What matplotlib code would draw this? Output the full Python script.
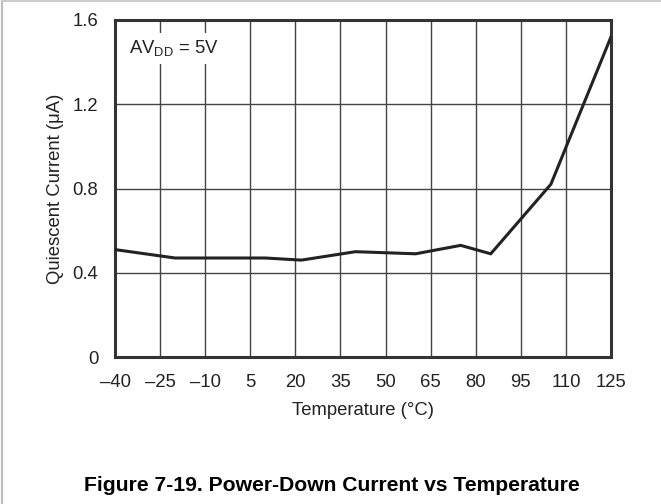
import matplotlib
matplotlib.use("Agg")
import matplotlib.pyplot as plt
from matplotlib.lines import Line2D

plt.rcParams["font.family"] = ["Liberation Sans", "DejaVu Sans"]
plt.rcParams["mathtext.fontset"] = "custom"
plt.rcParams["mathtext.rm"] = "Liberation Sans"
plt.rcParams["mathtext.it"] = "Liberation Sans:italic"
plt.rcParams["mathtext.bf"] = "Liberation Sans:bold"

# data
temps = [-40, -20, 10, 22, 40, 60, 75, 85, 105, 125]
current = [0.51, 0.47, 0.47, 0.46, 0.50, 0.49, 0.53, 0.49, 0.82, 1.52]

x_ticks = [-40, -25, -10, 5, 20, 35, 50, 65, 80, 95, 110, 125]
x_tick_labels = ["\u201340", "\u201325", "\u201310", "5", "20", "35", "50", "65",
                 "80", "95", "110", "125"]
y_ticks = [0, 0.4, 0.8, 1.2, 1.6]
y_tick_labels = ["0", "0.4", "0.8", "1.2", "1.6"]

FS = 13.3
W, H = 661, 504
fig = plt.figure(figsize=(W / 100, H / 100), dpi=100)
ax = fig.add_axes([115 / W, 1 - 357 / H, (611 - 115) / W, (357 - 20) / H])

# grid lines
for xv in x_ticks[1:-1]:
    ax.axvline(xv, color="#444444", lw=1.0, zorder=1)
for yv in y_ticks[1:-1]:
    ax.axhline(yv, color="#444444", lw=1.0, zorder=1)

ax.plot(temps, current, color="#222222", lw=2.2, zorder=3, solid_joinstyle="miter")

ax.set_xlim(-40, 125)
ax.set_ylim(0, 1.6)
ax.set_xticks(x_ticks)
ax.set_xticklabels(x_tick_labels)
ax.set_yticks(y_ticks)
ax.set_yticklabels(y_tick_labels)
ax.tick_params(length=0, labelsize=FS, colors="#222222")
ax.tick_params(axis="x", pad=12)
ax.tick_params(axis="y", pad=12)
for s in ax.spines.values():
    s.set_linewidth(2.2)
    s.set_color("#333333")

ax.set_xlabel("Temperature (\u00b0C)", fontsize=FS, color="#222222", labelpad=8)
ax.set_ylabel("Quiescent Current (\u03bcA)", fontsize=FS, color="#222222", labelpad=6)

ax.text(-35.5, 1.465, r"AV$_{\mathrm{DD}}$ = 5V", fontsize=FS, color="#222222",
        va="center", ha="left", zorder=2,
        bbox=dict(facecolor="white", edgecolor="none", pad=4))

fig.text(331.5 / W, 1 - 491 / H, "Figure 7-19. Power-Down Current vs Temperature",
         ha="center", va="baseline", fontsize=15.2, fontweight="bold", color="black")

# light frame on the left and top edges
fig.add_artist(Line2D([1.5 / W, 1.5 / W], [0, 1 - 1 / H], color="#bbbbbb", lw=1.5,
                      transform=fig.transFigure))
fig.add_artist(Line2D([1.5 / W, 1], [1 - 1 / H, 1 - 1 / H], color="#cccccc", lw=1.5,
                      transform=fig.transFigure))

fig.savefig("out.png", dpi=100)
